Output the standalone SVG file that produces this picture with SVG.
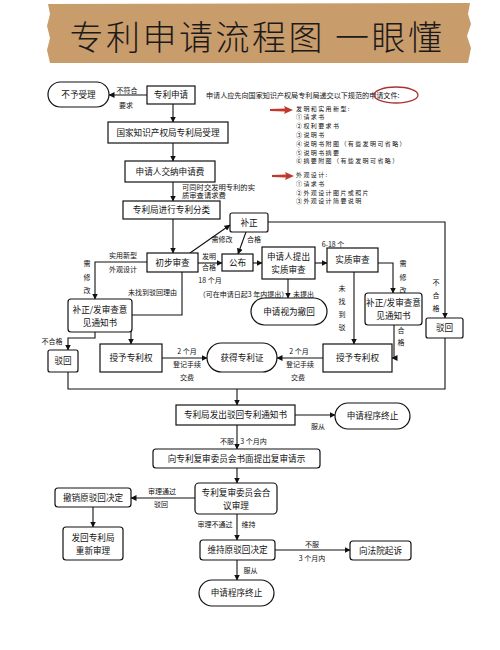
<svg xmlns="http://www.w3.org/2000/svg" width="500" height="650" viewBox="0 0 500 650">
<defs>
<marker id="ah" markerWidth="6" markerHeight="6" refX="5.5" refY="3" orient="auto" markerUnits="userSpaceOnUse">
<path d="M0,0 L6,3 L0,6 Z" fill="#111"/>
</marker>
<style>
.box{fill:#fff;stroke:#111;stroke-width:1.2}
.t{font-family:"Noto Sans CJK SC","Noto Sans",sans-serif;font-size:8.6px;text-anchor:middle;fill:#111}
.l{font-family:"Noto Sans CJK SC","Noto Sans",sans-serif;font-size:7px;text-anchor:middle;fill:#111}
.s{font-family:"Noto Sans CJK SC","Noto Sans",sans-serif;font-size:7.1px;fill:#111}
.li{font-family:"Noto Sans CJK SC","Noto Sans",sans-serif;font-size:6px;letter-spacing:1.4px;fill:#111}
.c{fill:none;stroke:#111;stroke-width:1.1}
.a{marker-end:url(#ah)}
</style>
</defs>
<rect width="500" height="650" fill="#fff"/>
<g id="title">
<path d="M48 4 L470 3 L468 14 L471 24 L467 36 L471 48 L468 63 L50 63 L47 50 L50 38 L47 26 L50 14 Z" fill="#c99c6b"/>
<text x="257" y="50" font-family="'Noto Sans CJK SC',sans-serif" font-size="34" font-weight="300" letter-spacing="2.5" text-anchor="middle" fill="#1a1a1a">专利申请流程图 一眼懂</text>
</g>
<g id="notes">
<text class="s" x="206" y="97.5">申请人应先向国家知识产权局专利局递交以下规范的申请文件:</text>
<ellipse cx="396" cy="95" rx="22" ry="8" fill="none" stroke="#a83232" stroke-width="1.3"/>
<path d="M270 109 L285 108.5 L284 106 L293 110 L284 114 L285 111.5 L270 111 Z" fill="#c0392b"/>
<path d="M272 175 L286 174.5 L285 172 L294 176 L285 180 L286 177.5 L272 177 Z" fill="#c0392b"/>
<text class="li"><tspan x="296" y="110.5">发明和实用新型:</tspan><tspan x="296" dy="8.8">①请求书</tspan><tspan x="296" dy="8.8">②权利要求书</tspan><tspan x="296" dy="8.8">③说明书</tspan><tspan x="296" dy="8.8">④说明书附图（有些发明可省略）</tspan><tspan x="296" dy="8.8">⑤说明书摘要</tspan><tspan x="296" dy="8.8">⑥摘要附图（有些发明可省略）</tspan></text>
<text class="li"><tspan x="296" y="177">外观设计:</tspan><tspan x="296" dy="8.8">①请求书</tspan><tspan x="296" dy="8.8">②外观设计图片或照片</tspan><tspan x="296" dy="8.8">③外观设计简要说明</tspan></text>
</g>
<g id="connectors">
<path class="c a" d="M147 95 H109"/>
<path class="c a" d="M173 104 V122"/>
<path class="c a" d="M173 143 V161"/>
<path class="c a" d="M173 182 V201"/>
<path class="c a" d="M173 219 V253"/>
<path class="c a" d="M190 253 L230 225"/>
<path class="c a" d="M246 232 L238 254"/>
<path class="c a" d="M268 222 H445 V318"/>
<path class="c a" d="M198 263 H222"/>
<path class="c a" d="M253 263 H262"/>
<path class="c a" d="M288 279 V298"/>
<path class="c a" d="M315 263 H327"/>
<path class="c a" d="M354 272 V344"/>
<path class="c a" d="M378 263 H393 V293"/>
<path class="c a" d="M394 325 V358 H392"/>
<path class="c a" d="M323 358 H277"/>
<path class="c a" d="M162 358 H207"/>
<path class="c a" d="M147 262 H95 V299"/>
<path class="c a" d="M182 272 V315 H131 V344"/>
<path class="c a" d="M95 332 V338 H68 V350"/>
<path class="c" d="M68 372 V389 H445 V338"/>
<path class="c a" d="M237 389 V405"/>
<path class="c a" d="M295 415 H335"/>
<path class="c a" d="M237 425 V449"/>
<path class="c a" d="M237 468 V483"/>
<path class="c a" d="M195 498 H131"/>
<path class="c a" d="M93 507 V527"/>
<path class="c a" d="M237 514 V540"/>
<path class="c a" d="M275 550 H350"/>
<path class="c a" d="M237 560 V580"/>
</g>
<g id="labels">
<text class="l" x="127" y="92.5">不符合</text>
<text class="l" x="126" y="107.5">要求</text>
<text class="s" style="font-size:7.3px"><tspan x="182" y="189.5">可同时交发明专利的实</tspan><tspan x="182" dy="8.5">质审查请求费</tspan></text>
<text class="l" x="222" y="241.5">需修改</text>
<text class="l" x="254" y="241.5">合格</text>
<text class="l" x="209" y="258.5">发明</text>
<text class="l" x="209" y="270">合格</text>
<text class="l" x="123" y="258">实用新型</text>
<text class="l" x="123" y="272">外观设计</text>
<text class="l"><tspan x="87" y="265.5">需</tspan><tspan x="87" dy="14">修</tspan><tspan x="87" dy="13">改</tspan></text>
<text class="l" x="152.5" y="294.5">未找到驳回理由</text>
<text class="l" x="210" y="282.5">18 个月</text>
<text class="l" x="243.5" y="296.5">（可在申请日起3 年内提出）</text>
<text class="l" x="303.5" y="296.5">未提出</text>
<text class="l" x="333" y="247">6-18 个</text>
<text class="l"><tspan x="342" y="290.5">未</tspan><tspan x="342" dy="13">找</tspan><tspan x="342" dy="13">到</tspan><tspan x="342" dy="13">驳</tspan></text>
<text class="l"><tspan x="403" y="265.5">需</tspan><tspan x="403" dy="14">修</tspan><tspan x="403" dy="13">改</tspan></text>
<text class="l"><tspan x="436" y="284.5">不</tspan><tspan x="436" dy="13">合</tspan><tspan x="436" dy="13">格</tspan></text>
<text class="l"><tspan x="401" y="332.5">合</tspan><tspan x="401" dy="12">格</tspan></text>
<text class="l"><tspan x="299" y="354">2 个月</tspan><tspan x="300" dy="12.5">登记手续</tspan><tspan x="298" dy="13">交费</tspan></text>
<text class="l"><tspan x="187" y="354">2 个月</tspan><tspan x="187" dy="12.5">登记手续</tspan><tspan x="187" dy="13">交费</tspan></text>
<text class="l" x="52" y="344">不合格</text>
<text class="l" x="318" y="428.5">服从</text>
<text class="l" x="227" y="443.5">不服</text>
<text class="l" x="253.5" y="443.5">3 个月内</text>
<text class="l" x="162" y="493.5">审理通过</text>
<text class="l" x="161" y="506.5">驳回</text>
<text class="l" x="215" y="526.5">审理不通过</text>
<text class="l" x="248.5" y="526.5">维持</text>
<text class="l" x="312" y="546.5">不服</text>
<text class="l" x="312" y="560.5">3 个月内</text>
<text class="l" x="250.5" y="572.5">服从</text>
</g>
<g id="n1"><rect class="box" x="48" y="82" width="61" height="25" rx="12.5"/><text class="t" x="78.5" y="97.5">不予受理</text></g>
<g id="n2"><rect class="box" x="147" y="86" width="48" height="18"/><text class="t" x="171" y="98">专利申请</text></g>
<g id="n3"><rect class="box" x="108" y="122" width="120" height="21"/><text class="t" x="168" y="135.5">国家知识产权局专利局受理</text></g>
<g id="n4"><rect class="box" x="125" y="161" width="90" height="21"/><text class="t" x="170" y="174.5">申请人交纳申请费</text></g>
<g id="n5"><rect class="box" x="123" y="201" width="97" height="18"/><text class="t" x="171.5" y="213">专利局进行专利分类</text></g>
<g id="n6"><rect class="box" x="230" y="213" width="38" height="19" rx="2"/><text class="t" x="249" y="225.5">补正</text></g>
<g id="n7"><rect class="box" x="147" y="253" width="51" height="19"/><text class="t" x="172.5" y="265.5">初步审查</text></g>
<g id="n8"><rect class="box" x="222" y="254" width="31" height="17"/><text class="t" x="237.5" y="265.5">公布</text></g>
<g id="n9"><rect class="box" x="262" y="247" width="53" height="32"/><text class="t"><tspan x="288.5" y="260">申请人提出</tspan><tspan x="288.5" dy="13">实质审查</tspan></text></g>
<g id="n10"><rect class="box" x="327" y="248" width="51" height="24"/><text class="t" x="352.5" y="263">实质审查</text></g>
<g id="n11"><rect class="box" x="365" y="293" width="57" height="32" rx="3"/><text class="t"><tspan x="393.5" y="306">补正/发审查意</tspan><tspan x="393.5" dy="13">见通知书</tspan></text></g>
<g id="n12"><rect class="box" x="426" y="318" width="37" height="20" rx="2"/><text class="t" x="444.5" y="331">驳回</text></g>
<g id="n13"><rect class="box" x="251" y="298" width="76" height="27" rx="13.5"/><text class="t" x="289" y="314.5">申请视为撤回</text></g>
<g id="n14"><rect class="box" x="68" y="299" width="64" height="33" rx="3"/><text class="t"><tspan x="100" y="312.5">补正/发审查意</tspan><tspan x="100" dy="13">见通知书</tspan></text></g>
<g id="n15"><rect class="box" x="48" y="350" width="30" height="22" rx="2"/><text class="t" x="63" y="364">驳回</text></g>
<g id="n16"><rect class="box" x="100" y="344" width="62" height="28"/><text class="t" x="131" y="361">授予专利权</text></g>
<g id="n17"><rect class="box" x="207" y="343" width="70" height="29" rx="14.5"/><text class="t" x="242" y="360.5">获得专利证</text></g>
<g id="n18"><rect class="box" x="323" y="344" width="69" height="28"/><text class="t" x="357.5" y="361">授予专利权</text></g>
<g id="n19"><rect class="box" x="176" y="405" width="119" height="20"/><text class="t" x="235.5" y="418">专利局发出驳回专利通知书</text></g>
<g id="n20"><rect class="box" x="335" y="403" width="75" height="26" rx="13"/><text class="t" x="372.5" y="419">申请程序终止</text></g>
<g id="n21"><rect class="box" x="153" y="449" width="167" height="19" rx="3"/><text class="t" x="236.5" y="461.5">向专利复审委员会书面提出复审请示</text></g>
<g id="n22"><rect class="box" x="195" y="483" width="82" height="31" rx="4"/><text class="t"><tspan x="236" y="496">专利复审委员会合</tspan><tspan x="236" dy="13">议审理</tspan></text></g>
<g id="n23"><rect class="box" x="55" y="488" width="76" height="19" rx="3"/><text class="t" x="93" y="500.5">撤销原驳回决定</text></g>
<g id="n24"><rect class="box" x="63" y="527" width="60" height="33" rx="3"/><text class="t"><tspan x="93" y="541">发回专利局</tspan><tspan x="93" dy="13">重新审理</tspan></text></g>
<g id="n25"><rect class="box" x="200" y="540" width="75" height="20" rx="3"/><text class="t" x="237.5" y="553">维持原驳回决定</text></g>
<g id="n26"><rect class="box" x="350" y="541" width="61" height="19" rx="3"/><text class="t" x="380.5" y="553.5">向法院起诉</text></g>
<g id="n27"><rect class="box" x="199" y="580" width="75" height="26" rx="13"/><text class="t" x="236.5" y="596">申请程序终止</text></g>
</svg>
